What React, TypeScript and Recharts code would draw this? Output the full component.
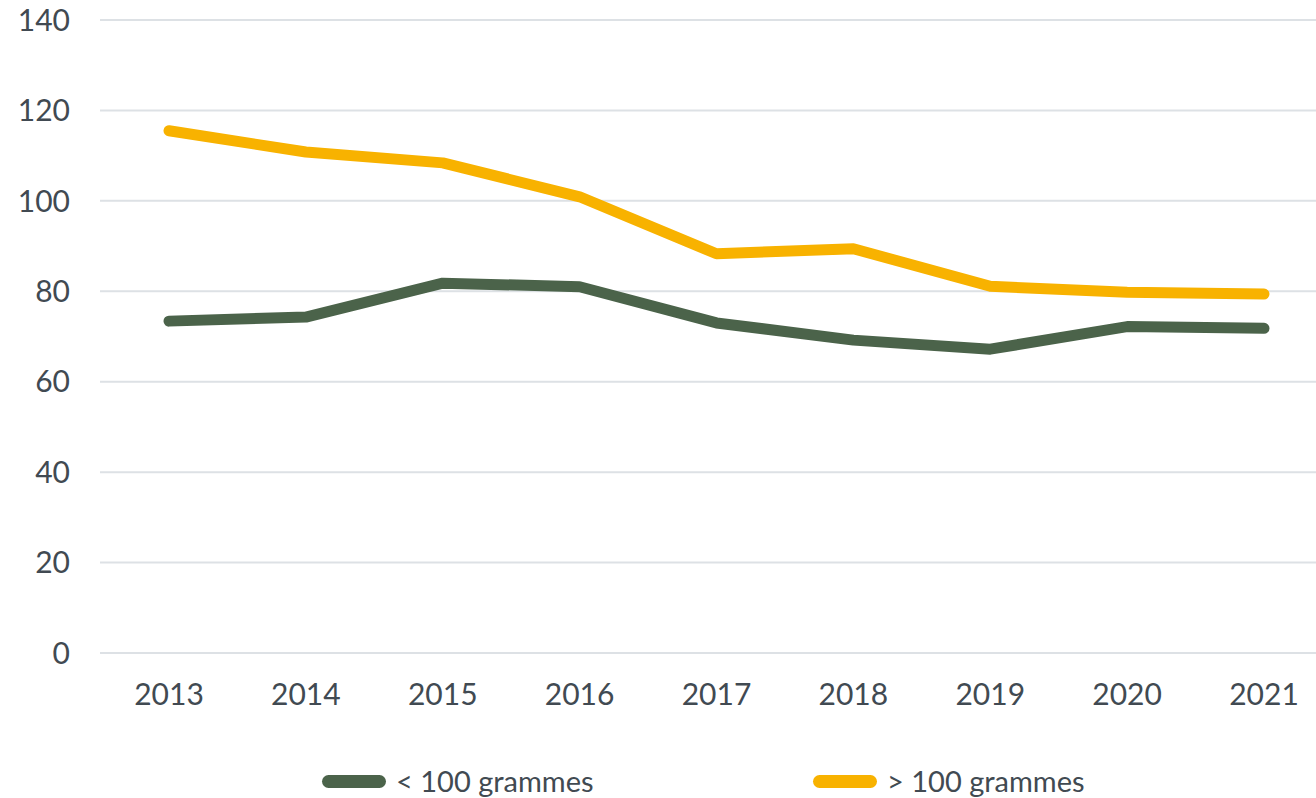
import React from "react";
import { LineChart, Line, XAxis, YAxis, CartesianGrid, Legend } from "recharts";

const years = ["2013", "2014", "2015", "2016", "2017", "2018", "2019", "2020", "2021"];
const under100 = [73.4, 74.3, 81.8, 81.0, 73.0, 69.2, 67.2, 72.2, 71.8];
const over100 = [115.5, 110.8, 108.4, 100.9, 88.3, 89.4, 81.1, 79.8, 79.4];
const yTicks = [0, 20, 40, 60, 80, 100, 120, 140];

const seriesNames = ["< 100 grammes", "> 100 grammes"];
const GREEN = "#4b634a";
const YELLOW = "#f8b200";
const TEXT = "#414a52";
const FONT = "Lato, 'Open Sans', sans-serif";

const data = years.map((y, i) => ({ year: y, under: under100[i], over: over100[i] }));

const LegendContent = () => (
  <div style={{ position: "relative", width: 1316, height: 45, fontFamily: FONT }}>
    {[{ name: seriesNames[0], color: GREEN, left: 322 }, { name: seriesNames[1], color: YELLOW, left: 813 }].map((it) => (
      <div key={it.name} style={{ position: "absolute", left: it.left, top: 14, display: "flex", alignItems: "center" }}>
        <div style={{ width: 64, height: 13, borderRadius: 7, background: it.color }} />
        <span style={{ marginLeft: 10, fontSize: 29, color: TEXT, lineHeight: "28px" }}>{it.name}</span>
      </div>
    ))}
  </div>
);

export default function App() {
  return (
    <div style={{ position: "absolute", left: 0, top: 0, width: 1316, height: 798, overflow: "hidden", background: "#fff" }}>
      <LineChart width={1316} height={798} data={data} margin={{ top: 20, right: 0, bottom: 0, left: 0 }}>
        <CartesianGrid vertical={false} stroke="#dde1e5" strokeWidth={2} />
        <XAxis
          dataKey="year"
          axisLine={false}
          tickLine={false}
          tickSize={6}
          tickMargin={25}
          height={100}
          interval={0}
          padding={{ left: 69, right: 52 }}
          tick={{ fill: TEXT, fontSize: 30, fontFamily: FONT }}
        />
        <YAxis
          domain={[0, 140]}
          ticks={yTicks}
          axisLine={false}
          tickLine={false}
          tickSize={6}
          tickMargin={24}
          width={100}
          tick={{ fill: TEXT, fontSize: 30, fontFamily: FONT }}
        />
        <Legend verticalAlign="bottom" content={<LegendContent />} wrapperStyle={{ left: 0, width: 1316 }} />
        <Line dataKey="under" name={seriesNames[0]} stroke={GREEN} strokeWidth={11} strokeLinecap="round" strokeLinejoin="round" dot={false} isAnimationActive={false} />
        <Line dataKey="over" name={seriesNames[1]} stroke={YELLOW} strokeWidth={11} strokeLinecap="round" strokeLinejoin="round" dot={false} isAnimationActive={false} />
      </LineChart>
    </div>
  );
}
